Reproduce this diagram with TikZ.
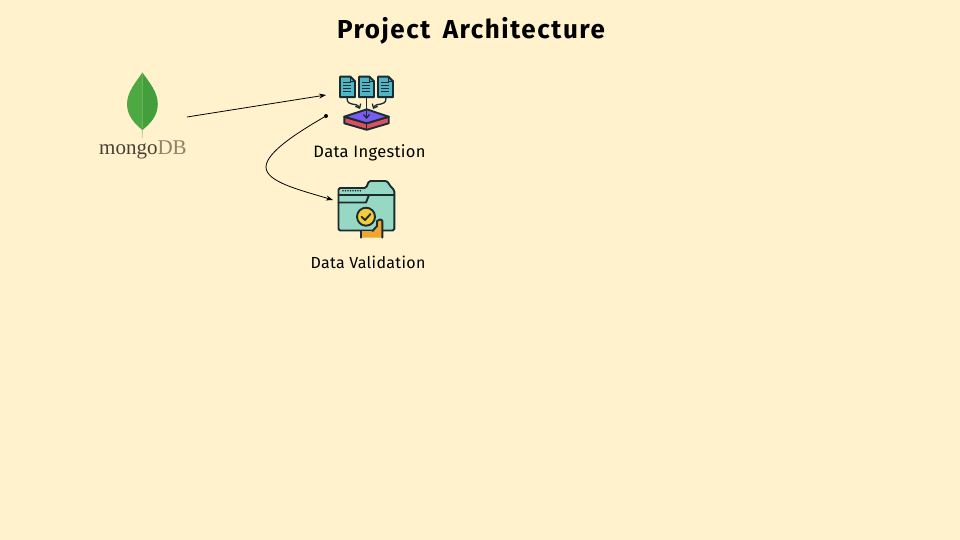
\documentclass[tikz,border=0pt]{standalone}
\usepackage{fontspec}
\setmainfont{Fira Sans}
\newfontfamily\titlefont[LetterSpace=6,WordSpace=1.6]{Fira Sans Bold}
\newfontfamily\labelfont[LetterSpace=2]{Fira Sans}
\newfontfamily\leaffont{Liberation Serif}
\usetikzlibrary{arrows.meta}
\definecolor{bgc}{HTML}{FFF2CC}
\definecolor{leafL}{HTML}{4FA943}
\definecolor{leafR}{HTML}{439F3C}
\definecolor{stemc}{HTML}{C8C4A8}
\definecolor{mongoc}{HTML}{4A4036}
\definecolor{dbc}{HTML}{8F8268}
\definecolor{inkc}{HTML}{1C2B2F}
\definecolor{docc}{HTML}{4FB6C6}
\definecolor{purplec}{HTML}{7A5CF2}
\definecolor{redc}{HTML}{D9505F}
\definecolor{folderc}{HTML}{97D8C5}
\definecolor{yellowc}{HTML}{F4CB3A}
\definecolor{orangec}{HTML}{F3A42C}
\tikzset{
  x=1pt,y=-1pt,
  label text/.style={inner sep=0pt,anchor=base,font=\labelfont\fontsize{16.5}{18}\selectfont},
  label small/.style={inner sep=0pt,anchor=base,font=\labelfont\fontsize{16}{18}\selectfont},
  title text/.style={inner sep=0pt,anchor=base,font=\titlefont\fontsize{26}{30}\selectfont},
  conn/.style={line width=0.8pt,black,-{Stealth[length=7pt,width=5pt]}},
  icon line/.style={draw=inkc,line width=1.9pt,line join=round,line cap=round},
  thin line/.style={draw=inkc,line width=1.3pt,line cap=butt},
  feed/.style={draw=inkc,line width=1.3pt,-{Straight Barb[length=3.5pt,width=6pt]}}
}
\newcommand{\docicon}[1]{%
  \begin{scope}[shift={(#1,76.7)}]
    \filldraw[icon line,fill=docc] (0,0) -- (10.5,0) -- (15,4.5) -- (15,20.5) -- (0,20.5) -- cycle;
    \draw[thin line] (10.5,0) -- (10.5,4.5) -- (15,4.5);
    \foreach \yy in {6,9,12,15} \draw[thin line] (3,\yy) -- (10.5,\yy);
  \end{scope}}
\begin{document}
\begin{tikzpicture}
\useasboundingbox (0,0) rectangle (960,540);
\fill[bgc] (0,0) rectangle (960,540);
\node[title text] (title) at (471,38.5) {Project Architecture};
% mongoDB logo
\fill[stemc] (141.6,128) -- (143,128) -- (142.6,138) -- (142,138) -- cycle;
\fill[leafL] (142.4,72.5) .. controls (136,82) and (127,92) .. (127,104) .. controls (127,116) and (135,124) .. (142.4,130) -- cycle;
\fill[leafR] (142.4,72.5) .. controls (149,82) and (157.8,92) .. (157.8,104) .. controls (157.8,116) and (150,124) .. (142.4,130) -- cycle;
\node[inner sep=0pt,anchor=base west,font=\leaffont\fontsize{21}{24}\selectfont] (mongo) at (99,154.5) {\textcolor{mongoc}{mongo}\textcolor{dbc}{DB}};
\coordinate (mongoout) at (187,117);
% Ingestion icon
\docicon{340}\docicon{359}\docicon{378}
\filldraw[icon line,fill=redc] (344.3,116.7) -- (344.3,123.3) -- (366.7,129.8) -- (388.7,123.3) -- (388.7,116.7) -- (366.7,123.3) -- cycle;
\filldraw[icon line,fill=purplec] (344.3,116.7) -- (366.7,109.3) -- (388.7,116.7) -- (366.7,123.3) -- cycle;
\draw[thin line] (366.7,123.3) -- (366.7,129.8);
\draw[feed] (366.5,97.5) -- (366.5,119);
\draw[feed] (347,97.5) .. controls (347,108) and (356,101) .. (360,109);
\draw[feed] (386,97.5) .. controls (386,108) and (377,101) .. (373,109);
\coordinate (ingestin) at (326,95);
\coordinate (ingestout) at (326,116);
\node[label text] (ingest) at (369.5,158) {Data Ingestion};
% Validation icon
\filldraw[icon line,fill=folderc,rounded corners=1.5pt] (338.5,188) -- (366,188) -- (369,181) -- (387,181) -- (391,187) -- (394.3,190) -- (394.3,230.5) -- (338.5,230.5) -- cycle;
\draw[icon line] (338.5,195) -- (394.3,195);
\draw[icon line] (338.5,202.5) -- (366,202.5) -- (369,195);
\foreach \xx in {343,345.5,348,350.5,353,355.5,358,360.5} \fill[inkc] (\xx,190.7) circle (0.85pt);
\fill[orangec] (361,231.5) -- (373,231.5) -- (377,226) -- (377,221) .. controls (378,219) and (382,219) .. (382.3,221) -- (382.3,237.7) -- (361,237.7) -- cycle;
\draw[icon line] (372.5,231) -- (377,226) -- (377,221) .. controls (378,219) and (382,219) .. (382.3,221) -- (382.3,237.7);
\draw[icon line] (361,231) -- (361,237.7);
\filldraw[icon line,fill=yellowc] (366,216.7) circle (9pt);
\draw[icon line] (361.5,216.7) -- (365,220) -- (370.5,214);
\coordinate (validin) at (333,200);
\node[label small] (valid) at (368,268) {Data Validation};
% connectors
\draw[conn] (mongoout) -- (ingestin);
\fill[black] (ingestout) circle (2pt);
\draw[conn] (ingestout) .. controls (300,131) and (266,152) .. (266,167) .. controls (266,182) and (300,190) .. (validin);
\end{tikzpicture}
\end{document}
